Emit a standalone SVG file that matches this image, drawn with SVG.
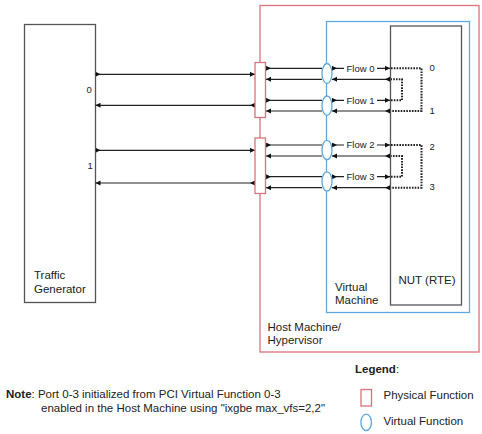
<svg xmlns="http://www.w3.org/2000/svg" width="482" height="434" viewBox="0 0 482 434">
<style>
text{font-family:"Liberation Sans",Arial,sans-serif;fill:#222;}
.t{font-size:11.5px;}
.s{font-size:9.5px;}
.box{fill:#fff;stroke:#555;stroke-width:1.3;}
.red{fill:none;stroke:#d9737b;stroke-width:1.3;}
.pf{fill:#fff;stroke:#d9737b;stroke-width:1.3;}
.blue{fill:none;stroke:#5fa8e0;stroke-width:1.3;}
.vf{fill:#fff;stroke:#5fa8e0;stroke-width:1.3;}
.c{fill:none;stroke:#222;stroke-width:1.2;}
.se{marker-start:url(#ms);marker-end:url(#me);}
.so{marker-start:url(#ms);}
.eo{marker-end:url(#me);}
.d{fill:none;stroke:#222;stroke-width:2;stroke-dasharray:1.6 1.2;}
.lb{fill:#fff;}
</style>
<defs>
<marker id="ms" markerUnits="userSpaceOnUse" markerWidth="6" markerHeight="6" refX="0" refY="2.5" orient="auto"><path d="M0,0 L5,2.5 L0,5 z" fill="#111"/></marker>
<marker id="me" markerUnits="userSpaceOnUse" markerWidth="6" markerHeight="6" refX="5" refY="2.5" orient="auto"><path d="M0,0 L5,2.5 L0,5 z" fill="#111"/></marker>
</defs>
<rect width="482" height="434" fill="#fff"/>

<g id="host">
<rect class="red" x="260" y="5.5" width="219" height="346.5"/>
<text class="t" x="267.5" y="330.5">Host Machine/</text>
<text class="t" x="267.5" y="344">Hypervisor</text>
</g>
<g id="vm">
<rect class="blue" x="326.5" y="21.5" width="143" height="291"/>
<text class="t" x="335" y="290.5">Virtual</text>
<text class="t" x="335" y="303.5">Machine</text>
</g>
<g id="nut">
<rect class="box" x="390.5" y="26" width="71" height="279"/>
<text class="t" x="398.5" y="283.5">NUT (RTE)</text>
</g>
<g id="tg">
<rect class="box" x="24.5" y="24.5" width="71" height="278"/>
<text class="t" x="34" y="279">Traffic</text>
<text class="t" x="34" y="293">Generator</text>
<text class="s" x="86.5" y="92.5">0</text>
<text class="s" x="87.5" y="169">1</text>
</g>

<g id="connectors">
<path class="c se" d="M95.5,74.3 H255"/>
<path class="c se" d="M255,105.3 H95.5"/>
<path class="c se" d="M95.5,150.3 H255"/>
<path class="c se" d="M255,183 H95.5"/>

<path class="c so" d="M266,68.3 H322"/>
<path class="c eo" d="M322,79.3 H266"/>
<path class="c so" d="M266,100.3 H322"/>
<path class="c eo" d="M322,111 H266"/>
<path class="c so" d="M266,145 H322"/>
<path class="c eo" d="M322,156 H266"/>
<path class="c so" d="M266,176.7 H322"/>
<path class="c eo" d="M322,187.7 H266"/>

<path class="c se" d="M332,68.3 H390"/>
<path class="c se" d="M390,79.3 H332"/>
<path class="c se" d="M332,100.3 H390"/>
<path class="c se" d="M390,111 H332"/>
<path class="c se" d="M332,145 H390"/>
<path class="c se" d="M390,156 H332"/>
<path class="c se" d="M332,176.7 H390"/>
<path class="c se" d="M390,187.7 H332"/>

<path class="d" d="M391,68.3 H421.5 V111 H391"/>
<path class="d" d="M391,100.3 H402 V79.3 H391"/>
<path class="d" d="M391,145 H421.5 V187.7 H391"/>
<path class="d" d="M391,176.7 H402 V156 H391"/>

<rect class="lb" x="344" y="62.5" width="33" height="11"/>
<text class="s" x="346.5" y="71.6">Flow 0</text>
<rect class="lb" x="344" y="94.5" width="33" height="11"/>
<text class="s" x="346.5" y="103.6">Flow 1</text>
<rect class="lb" x="344" y="139.2" width="33" height="11"/>
<text class="s" x="346.5" y="148.3">Flow 2</text>
<rect class="lb" x="344" y="170.9" width="33" height="11"/>
<text class="s" x="346.5" y="180">Flow 3</text>
</g>

<g id="ports">
<rect id="pf0" class="pf" x="255" y="62.5" width="10.5" height="55"/>
<rect id="pf1" class="pf" x="255" y="138" width="10.5" height="55.5"/>
<ellipse id="vf0" class="vf" cx="327" cy="73.5" rx="5" ry="10"/>
<ellipse id="vf1" class="vf" cx="327" cy="105.7" rx="5" ry="9.7"/>
<ellipse id="vf2" class="vf" cx="327" cy="150" rx="5" ry="9.7"/>
<ellipse id="vf3" class="vf" cx="327" cy="181.5" rx="5" ry="9.7"/>
<text class="s" x="429.5" y="71.3">0</text>
<text class="s" x="429.5" y="114.3">1</text>
<text class="s" x="429.5" y="150">2</text>
<text class="s" x="429.5" y="190">3</text>
</g>

<g id="legend">
<text class="t" x="355" y="373"><tspan font-weight="bold">Legend</tspan>:</text>
<rect class="pf" x="361" y="389.5" width="10.5" height="16.5"/>
<text class="t" x="383.5" y="399">Physical Function</text>
<ellipse class="vf" cx="366.2" cy="422.4" rx="5.3" ry="8.2"/>
<text class="t" x="383.5" y="425">Virtual Function</text>
</g>

<g id="note">
<text class="t" x="6" y="397.5"><tspan font-weight="bold">Note</tspan>: Port 0-3 initialized from PCI Virtual Function 0-3</text>
<text class="t" x="41" y="411.5">enabled in the Host Machine using "ixgbe max_vfs=2,2"</text>
</g>
</svg>
